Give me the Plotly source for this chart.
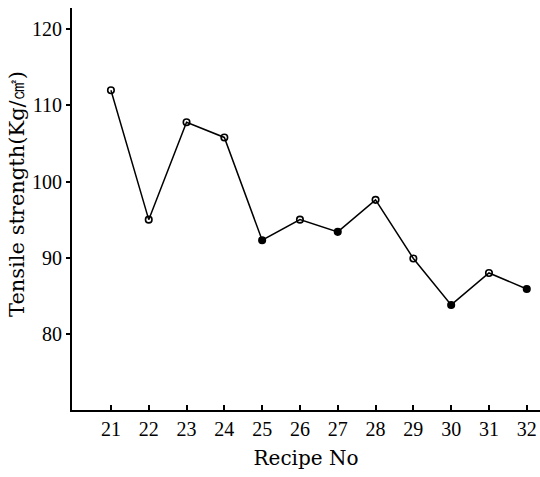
import plotly.graph_objects as go

# Recipe numbers and measured tensile strength (Kg/cm²)
recipes = [21, 22, 23, 24, 25, 26, 27, 28, 29, 30, 31, 32]
strength = [112.0, 95.0, 107.8, 105.8, 92.3, 95.0, 93.4, 97.6, 89.9, 83.8, 88.0, 85.9]

y_ticks = [80, 90, 100, 110, 120]

# open circles for most points, a few drawn solid
symbols = ["circle-open" if r not in (25, 27, 30, 32) else "circle" for r in recipes]

W, H = 540, 477
L, R, T, B = 72, 0, 8, 67

fig = go.Figure(
    go.Scatter(
        x=recipes,
        y=strength,
        mode="lines+markers",
        line=dict(color="black", width=1.5),
        marker=dict(symbol=symbols, size=6.5, color="black",
                    line=dict(color="black", width=1.6)),
        showlegend=False,
        cliponaxis=False,
    )
)

tick_font = "Liberation Serif, Times New Roman, serif"
title_font = "DejaVu Serif, serif"

fig.update_layout(
    width=W,
    height=H,
    margin=dict(l=L, r=R, t=T, b=B),
    paper_bgcolor="white",
    plot_bgcolor="white",
    font=dict(family=tick_font, size=20, color="black"),
)

fig.update_xaxes(
    range=[19.97, 32.35],
    tickvals=recipes,
    ticktext=[str(r) for r in recipes],
    ticks="inside",
    ticklen=5,
    tickwidth=1.5,
    tickcolor="black",
    showline=True,
    linecolor="black",
    linewidth=2,
    showgrid=False,
    zeroline=False,
    tickfont=dict(family=tick_font, size=20),
    title=dict(text="Recipe No", font=dict(family=title_font, size=20), standoff=12),
)

fig.update_yaxes(
    range=[70, 122.8],
    tickvals=y_ticks,
    ticks="outside",
    ticklen=4,
    tickwidth=1.5,
    tickcolor="black",
    showline=True,
    linecolor="black",
    linewidth=2,
    showgrid=False,
    zeroline=False,
    tickfont=dict(family=tick_font, size=20),
)

# vertical axis title, placed as a rotated annotation
plot_w = W - L - R
plot_h = H - T - B
fig.add_annotation(
    text="Tensile strength(Kg/㎠)",
    xref="paper", yref="paper",
    x=(17 - L) / plot_w, y=(H - B - 194) / plot_h,
    xanchor="center", yanchor="middle",
    textangle=-90,
    showarrow=False,
    font=dict(family=title_font, size=21, color="black"),
)

fig.write_html("out.html")
